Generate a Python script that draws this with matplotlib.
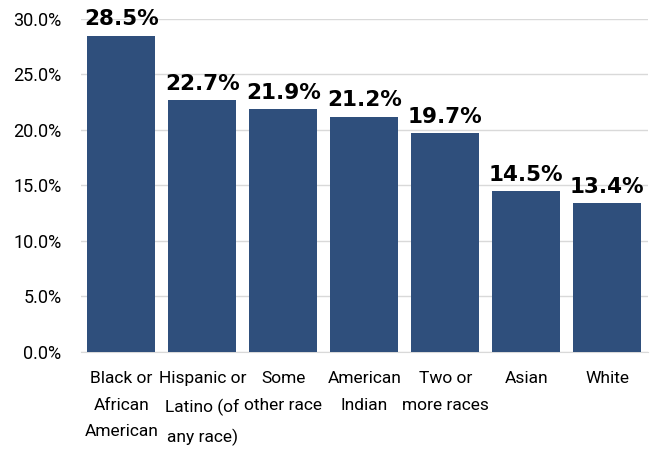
import matplotlib
matplotlib.use("Agg")
import matplotlib.pyplot as plt
import numpy as np

# data
categories = ["Black or\nAfrican\nAmerican", "Hispanic or\nLatino (of\nany race)",
              "Some\nother race", "American\nIndian", "Two or\nmore races",
              "Asian", "White"]
values = [28.5, 22.7, 21.9, 21.2, 19.7, 14.5, 13.4]
yticks = [0, 5, 10, 15, 20, 25, 30]

bar_color = "#2F4F7C"
grid_color = "#D9D9D9"
narrow = ["Roboto", "DejaVu Sans"]

fig = plt.figure(figsize=(6.57, 4.49), dpi=100)
ax = fig.add_axes([0.123, 0.216, 0.863, 0.742])

x = np.arange(len(categories))
ax.bar(x, values, width=0.84, color=bar_color, zorder=3)

for xi, v in zip(x, values):
    ax.text(xi, v + 0.55, f"{v:.1f}%", ha="center", va="bottom",
            fontsize=15.5, fontweight="bold", color="black", zorder=4)

ax.set_xlim(-0.5, len(categories) - 0.5)
ax.set_ylim(0, 30)
ax.set_yticks(yticks)
ax.set_yticklabels([f"{t:.1f}%" for t in yticks], family=narrow, fontsize=13)
ax.set_xticks(x)
ax.set_xticklabels(categories, family=narrow, fontsize=12.5, linespacing=1.95)

ax.grid(axis="y", color=grid_color, linewidth=1, zorder=0)
ax.tick_params(axis="y", length=0, pad=14)
ax.tick_params(axis="x", length=0, pad=14)
for side in ["top", "right", "left"]:
    ax.spines[side].set_visible(False)
ax.spines["bottom"].set_color(grid_color)
ax.spines["bottom"].set_zorder(2)

fig.savefig("out.png", dpi=100)
